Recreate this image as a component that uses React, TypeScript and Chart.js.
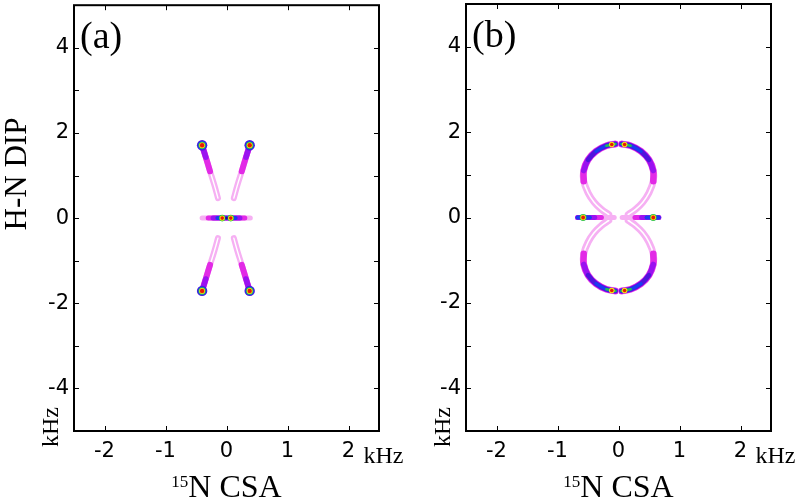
import React, { useEffect, useRef } from "react";
import { Chart, registerables } from "chart.js";
Chart.register(...registerables);

type P = [number, number];

// ---- axes ----
const X_MIN = -2.5, X_MAX = 2.5, Y_MIN = -5, Y_MAX = 5;
const X_TICK_LABELS = [-2, -1, 0, 1, 2];
const Y_TICK_LABELS = [-4, -2, 0, 2, 4];
const X_TICK_MARKS = [-2, -1, 0, 1, 2];
const Y_TICK_MARKS = [-4, -3, -2, -1, 0, 1, 2, 3, 4];

// ---- panel (a) data (kHz) ----
const A_TL: P[] = [[-0.40, 1.71], [-0.34, 1.43], [-0.27, 1.10], [-0.20, 0.78], [-0.14, 0.47]];
const A_TR: P[] = [[0.38, 1.71], [0.32, 1.43], [0.25, 1.10], [0.18, 0.78], [0.12, 0.47]];
const A_BL: P[] = [[-0.40, -1.71], [-0.34, -1.43], [-0.27, -1.10], [-0.20, -0.78], [-0.14, -0.47]];
const A_BR: P[] = [[0.38, -1.71], [0.32, -1.43], [0.25, -1.10], [0.18, -0.78], [0.12, -0.47]];
const A_BAR: P[] = [[-0.40, 0], [-0.30, 0], [-0.22, 0], [-0.15, 0], [-0.07, 0], [0, 0], [0.07, 0], [0.15, 0], [0.22, 0], [0.30, 0], [0.39, 0]];
const A_SPOTS: P[] = [[-0.40, 1.71], [0.38, 1.71], [-0.40, -1.71], [0.38, -1.71]];
const A_BAR_SPOTS: P[] = [[-0.07, 0], [0.07, 0]];
const A_BAR_GAP: P[] = [[0, 0]];

// ---- panel (b) data (kHz) ----
const B_TOP_L: P[] = [[-0.05, 1.72], [-0.20, 1.68], [-0.37, 1.55], [-0.50, 1.35], [-0.57, 1.10], [-0.57, 0.85], [-0.50, 0.58], [-0.40, 0.36], [-0.28, 0.19], [-0.16, 0.07]];
const B_TOP_R: P[] = [[0.05, 1.72], [0.20, 1.68], [0.37, 1.55], [0.50, 1.35], [0.57, 1.10], [0.57, 0.85], [0.50, 0.58], [0.40, 0.36], [0.28, 0.19], [0.16, 0.07]];
const B_BOT_L: P[] = [[-0.05, -1.72], [-0.20, -1.68], [-0.37, -1.55], [-0.50, -1.35], [-0.57, -1.10], [-0.57, -0.85], [-0.50, -0.58], [-0.40, -0.36], [-0.28, -0.19], [-0.16, -0.07]];
const B_BOT_R: P[] = [[0.05, -1.72], [0.20, -1.68], [0.37, -1.55], [0.50, -1.35], [0.57, -1.10], [0.57, -0.85], [0.50, -0.58], [0.40, -0.36], [0.28, -0.19], [0.16, -0.07]];
const B_BAR_L: P[] = [[-0.67, 0], [-0.58, 0], [-0.47, 0], [-0.39, 0], [-0.28, 0], [-0.17, 0], [-0.07, 0]];
const B_BAR_R: P[] = [[0.66, 0], [0.57, 0], [0.46, 0], [0.38, 0], [0.27, 0], [0.16, 0], [0.06, 0]];
const B_RING_SPOTS: P[] = [[-0.11, 1.71], [0.10, 1.71], [-0.11, -1.71], [0.10, -1.71]];
const B_BAR_SPOTS: P[] = [[-0.58, 0], [0.57, 0]];

// ---- colours ----
const PINK = "#f6b0f3";
const WHITE = "#ffffff";
const MAG = "#e22ae6";
const PUR = "#9a12f0";
const VIO = "#5014dc";
const BLUE = "#1a3cf0";
const GREEN = "#20c050";
const YEL = "#f2ea10";
const RED = "#e81808";
const DARK = "#300090";

type Layer = { pts: P[]; color: string; size: number; line: boolean };
const L = (pts: P[], color: string, size: number): Layer => ({ pts, color, size, line: true });
const D = (pts: P[], color: string, size: number): Layer => ({ pts, color, size, line: false });

function layersA(): Layer[] {
  const out: Layer[] = [];
  for (const s of [A_TL, A_TR, A_BL, A_BR]) {
    out.push(L(s, PINK, 6), L(s.slice(1), WHITE, 1.4), L(s.slice(0, 3), MAG, 6), L(s.slice(0, 2), PUR, 5.5));
  }
  out.push(L(A_BAR, PINK, 5), L(A_BAR.slice(1, 10), MAG, 5), L(A_BAR.slice(2, 9), PUR, 5), L(A_BAR.slice(3, 8), BLUE, 4));
  out.push(D(A_SPOTS, VIO, 5.2), D(A_SPOTS, BLUE, 4.4), D(A_SPOTS, GREEN, 3.6), D(A_SPOTS, YEL, 2.9), D(A_SPOTS, RED, 2.2));
  out.push(D(A_BAR_SPOTS, GREEN, 3.3), D(A_BAR_SPOTS, YEL, 2.6), D(A_BAR_SPOTS, RED, 1.8), D(A_BAR_GAP, DARK, 1.4));
  return out;
}

function layersB(): Layer[] {
  const out: Layer[] = [];
  for (const r of [B_TOP_L, B_TOP_R, B_BOT_L, B_BOT_R]) {
    out.push(
      L(r, PINK, 7),
      L(r.slice(4), WHITE, 1.6),
      L(r.slice(0, 6), MAG, 6.5),
      L(r.slice(0, 5), PUR, 5.5),
      L(r.slice(0, 4), VIO, 4.6),
      L(r.slice(0, 3), BLUE, 3.2),
      L(r.slice(0, 2), GREEN, 2.4)
    );
  }
  out.push(D(B_RING_SPOTS, YEL, 2.8), D(B_RING_SPOTS, RED, 1.8));
  for (const b of [B_BAR_L, B_BAR_R]) {
    out.push(L(b, PINK, 5), L(b.slice(0, 5), MAG, 5), L(b.slice(0, 4), PUR, 5), L(b.slice(0, 3), BLUE, 4));
  }
  out.push(D(B_BAR_SPOTS, GREEN, 3.4), D(B_BAR_SPOTS, YEL, 2.7), D(B_BAR_SPOTS, RED, 1.9));
  return out;
}

const SERIF = '"Liberation Serif", "Times New Roman", serif';
const SANS = '"DejaVu Sans", sans-serif';

type PanelProps = {
  left: number;
  width: number;
  yAxisWidth: number;
  rightPad: number;
  label: string;
  showYTitle: boolean;
  layers: Layer[];
};

function Panel({ left, width, yAxisWidth, rightPad, label, showYTitle, layers }: PanelProps) {
  const ref = useRef<HTMLCanvasElement>(null);
  useEffect(() => {
    const datasets = layers
      .map((ly) =>
        ly.line
          ? {
              data: ly.pts.map(([x, y]) => ({ x, y })),
              showLine: true,
              borderColor: ly.color,
              borderWidth: ly.size,
              pointRadius: 0,
              tension: 0.4,
              borderCapStyle: "round" as const,
              borderJoinStyle: "round" as const,
            }
          : {
              data: ly.pts.map(([x, y]) => ({ x, y })),
              showLine: false,
              pointRadius: ly.size,
              pointBackgroundColor: ly.color,
              pointBorderWidth: 0,
              pointBorderColor: ly.color,
            }
      )
      .reverse();

    const decor = {
      id: "decor",
      afterDraw(chart: any) {
        const { ctx, chartArea: a, scales } = chart;
        const xs = scales.x, ys = scales.y;
        ctx.save();
        ctx.strokeStyle = "#000";
        ctx.fillStyle = "#000";
        // ticks (inward, all four sides)
        ctx.lineWidth = 1;
        ctx.beginPath();
        for (const v of X_TICK_MARKS) {
          const px = Math.round(xs.getPixelForValue(v)) + 0.5;
          ctx.moveTo(px, a.bottom);
          ctx.lineTo(px, a.bottom - 5);
          ctx.moveTo(px, a.top);
          ctx.lineTo(px, a.top + 5);
        }
        for (const v of Y_TICK_MARKS) {
          const py = Math.round(ys.getPixelForValue(v)) + 0.5;
          ctx.moveTo(a.left, py);
          ctx.lineTo(a.left + 5, py);
          ctx.moveTo(a.right, py);
          ctx.lineTo(a.right - 5, py);
        }
        ctx.stroke();
        // box
        ctx.lineWidth = 2;
        ctx.strokeRect(a.left, a.top, a.right - a.left, a.bottom - a.top);

        // panel label
        ctx.font = `38px ${SERIF}`;
        ctx.textAlign = "left";
        ctx.textBaseline = "alphabetic";
        ctx.fillText(label, a.left + 6, a.top + 43);

        // kHz on x axis
        ctx.font = `24px ${SERIF}`;
        ctx.fillText("kHz", xs.getPixelForValue(2) + 15, 463);

        // kHz on y axis (rotated)
        ctx.save();
        ctx.translate(a.left - 16, 427);
        ctx.rotate(-Math.PI / 2);
        ctx.textAlign = "center";
        ctx.fillText("kHz", 0, 0);
        ctx.restore();

        // y title
        if (showYTitle) {
          ctx.save();
          ctx.font = `31px ${SERIF}`;
          ctx.translate(26, 174);
          ctx.rotate(-Math.PI / 2);
          ctx.textAlign = "center";
          ctx.fillText("H-N DIP", 0, 0);
          ctx.restore();
        }

        // x title with superscript
        const cx = (a.left + a.right) / 2;
        ctx.font = `17px ${SERIF}`;
        const wSup = ctx.measureText("15").width;
        ctx.font = `32px ${SERIF}`;
        const wMain = ctx.measureText("N CSA").width;
        const x0 = cx - (wSup + wMain) / 2;
        ctx.textAlign = "left";
        ctx.font = `17px ${SERIF}`;
        ctx.fillText("15", x0, 487);
        ctx.font = `32px ${SERIF}`;
        ctx.fillText("N CSA", x0 + wSup, 497);
        ctx.restore();
      },
    };

    const chart = new Chart(ref.current!, {
      type: "scatter",
      data: { datasets: datasets as any },
      options: {
        responsive: false,
        devicePixelRatio: 1,
        animation: false,
        events: [],
        layout: { padding: { top: 4, right: rightPad, bottom: 0, left: 0 } },
        plugins: { legend: { display: false }, tooltip: { enabled: false } },
        scales: {
          x: {
            type: "linear",
            min: X_MIN,
            max: X_MAX,
            afterBuildTicks: (s: any) => {
              s.ticks = X_TICK_LABELS.map((v) => ({ value: v }));
            },
            afterFit: (s: any) => {
              s.height = 71;
              s.paddingLeft = 0;
              s.paddingRight = 0;
            },
            grid: { display: false, drawTicks: false },
            border: { display: false },
            ticks: {
              font: { family: SANS, size: 21 },
              color: "#000",
              padding: 8,
              maxRotation: 0,
              autoSkip: false,
              callback: (v: any) => String(v),
            },
          },
          y: {
            type: "linear",
            min: Y_MIN,
            max: Y_MAX,
            afterBuildTicks: (s: any) => {
              s.ticks = Y_TICK_LABELS.map((v) => ({ value: v }));
            },
            afterFit: (s: any) => {
              s.width = yAxisWidth;
              s.paddingTop = 0;
              s.paddingBottom = 0;
            },
            grid: { display: false, drawTicks: false },
            border: { display: false },
            ticks: {
              font: { family: SANS, size: 21 },
              color: "#000",
              padding: 5,
              autoSkip: false,
              callback: (v: any) => String(v),
            },
          },
        },
      },
      plugins: [decor],
    });
    return () => chart.destroy();
  }, []);
  return (
    <canvas
      ref={ref}
      width={width}
      height={502}
      style={{ position: "absolute", left, top: 0, width, height: 502 }}
    />
  );
}

export default function App() {
  return (
    <div style={{ position: "absolute", left: 0, top: 0, width: 800, height: 502, background: "#fff", overflow: "hidden" }}>
      <Panel left={0} width={420} yAxisWidth={74} rightPad={41} label="(a)" showYTitle={true} layers={layersA()} />
      <Panel left={420} width={380} yAxisWidth={46} rightPad={29} label="(b)" showYTitle={false} layers={layersB()} />
    </div>
  );
}
